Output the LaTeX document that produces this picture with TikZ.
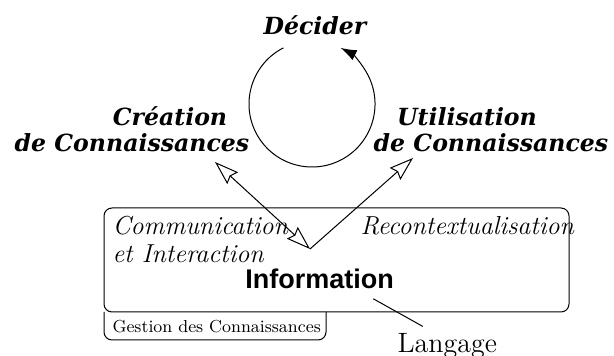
\documentclass[tikz,border=0pt]{standalone}
\usepackage{fontspec}
\newfontfamily\infofont{Liberation Sans}
\newfontfamily\phasefont{DejaVu Serif}
\usetikzlibrary{arrows.meta}
\tikzset{
  phase/.style={font=\phasefont\fontsize{11.8}{14}\selectfont\bfseries\itshape, inner sep=0pt, anchor=base},
  activity/.style={font=\fontsize{13}{15}\selectfont\itshape, inner sep=0pt, anchor=base west},
  openhead/.tip={Stealth[open,length=12pt,width=8pt,inset=1.5pt]},
}
\begin{document}
\begin{tikzpicture}[x=0.5pt,y=-0.5pt,line width=0.5pt]
  \useasboundingbox (0,0) rectangle (614,356);
  % Cycle
  \node (decider) at (315,35) [phase] {Décider};
  \draw[-{Latex[length=8pt,width=5.5pt]}] (312,104) ++(243:63) arc[start angle=243,end angle=-63,radius=63];
  \node (crea1) at (170,126) [phase] {Création};
  \node (crea2) at (132,152) [phase] {de Connaissances};
  \node (util1) at (467,126) [phase] {Utilisation};
  \node (util2) at (491,152) [phase] {de Connaissances};
  % Knowledge management box
  \draw[rounded corners=4pt] (104,208) rectangle (569,312);
  \draw[rounded corners=4pt] (104,312) -- (104,340) -- (326,340) -- (326,312);
  \node (comm1) at (112,235) [activity] {Communication};
  \node (comm2) at (112,263) [activity] {et Interaction};
  \node (recon) at (360,235) [activity] {Recontextualisation};
  \node (info) at (319.5,289) [anchor=base,inner sep=0pt,font=\infofont\fontsize{13.5}{16}\selectfont\bfseries] {Information};
  \node (gestion) at (112,333) [anchor=base west,inner sep=0pt,font=\fontsize{8.7}{11}\selectfont] {Gestion des Connaissances};
  \node (lang) at (397,353) [anchor=base west,inner sep=0pt,font=\fontsize{14}{16}\selectfont] {Langage};
  % Flows
  \coordinate (tipL) at (215,162);
  \coordinate (tipR) at (413,158);
  \coordinate (junc) at (310,249);
  \draw[openhead-openhead] (tipL) -- (junc);
  \draw[-openhead] (junc) -- (tipR);
  \draw ([xshift=-10.5pt,yshift=-4.5pt]info.south east) -- ([xshift=-12.25pt,yshift=3.5pt]lang.north);
\end{tikzpicture}
\end{document}
